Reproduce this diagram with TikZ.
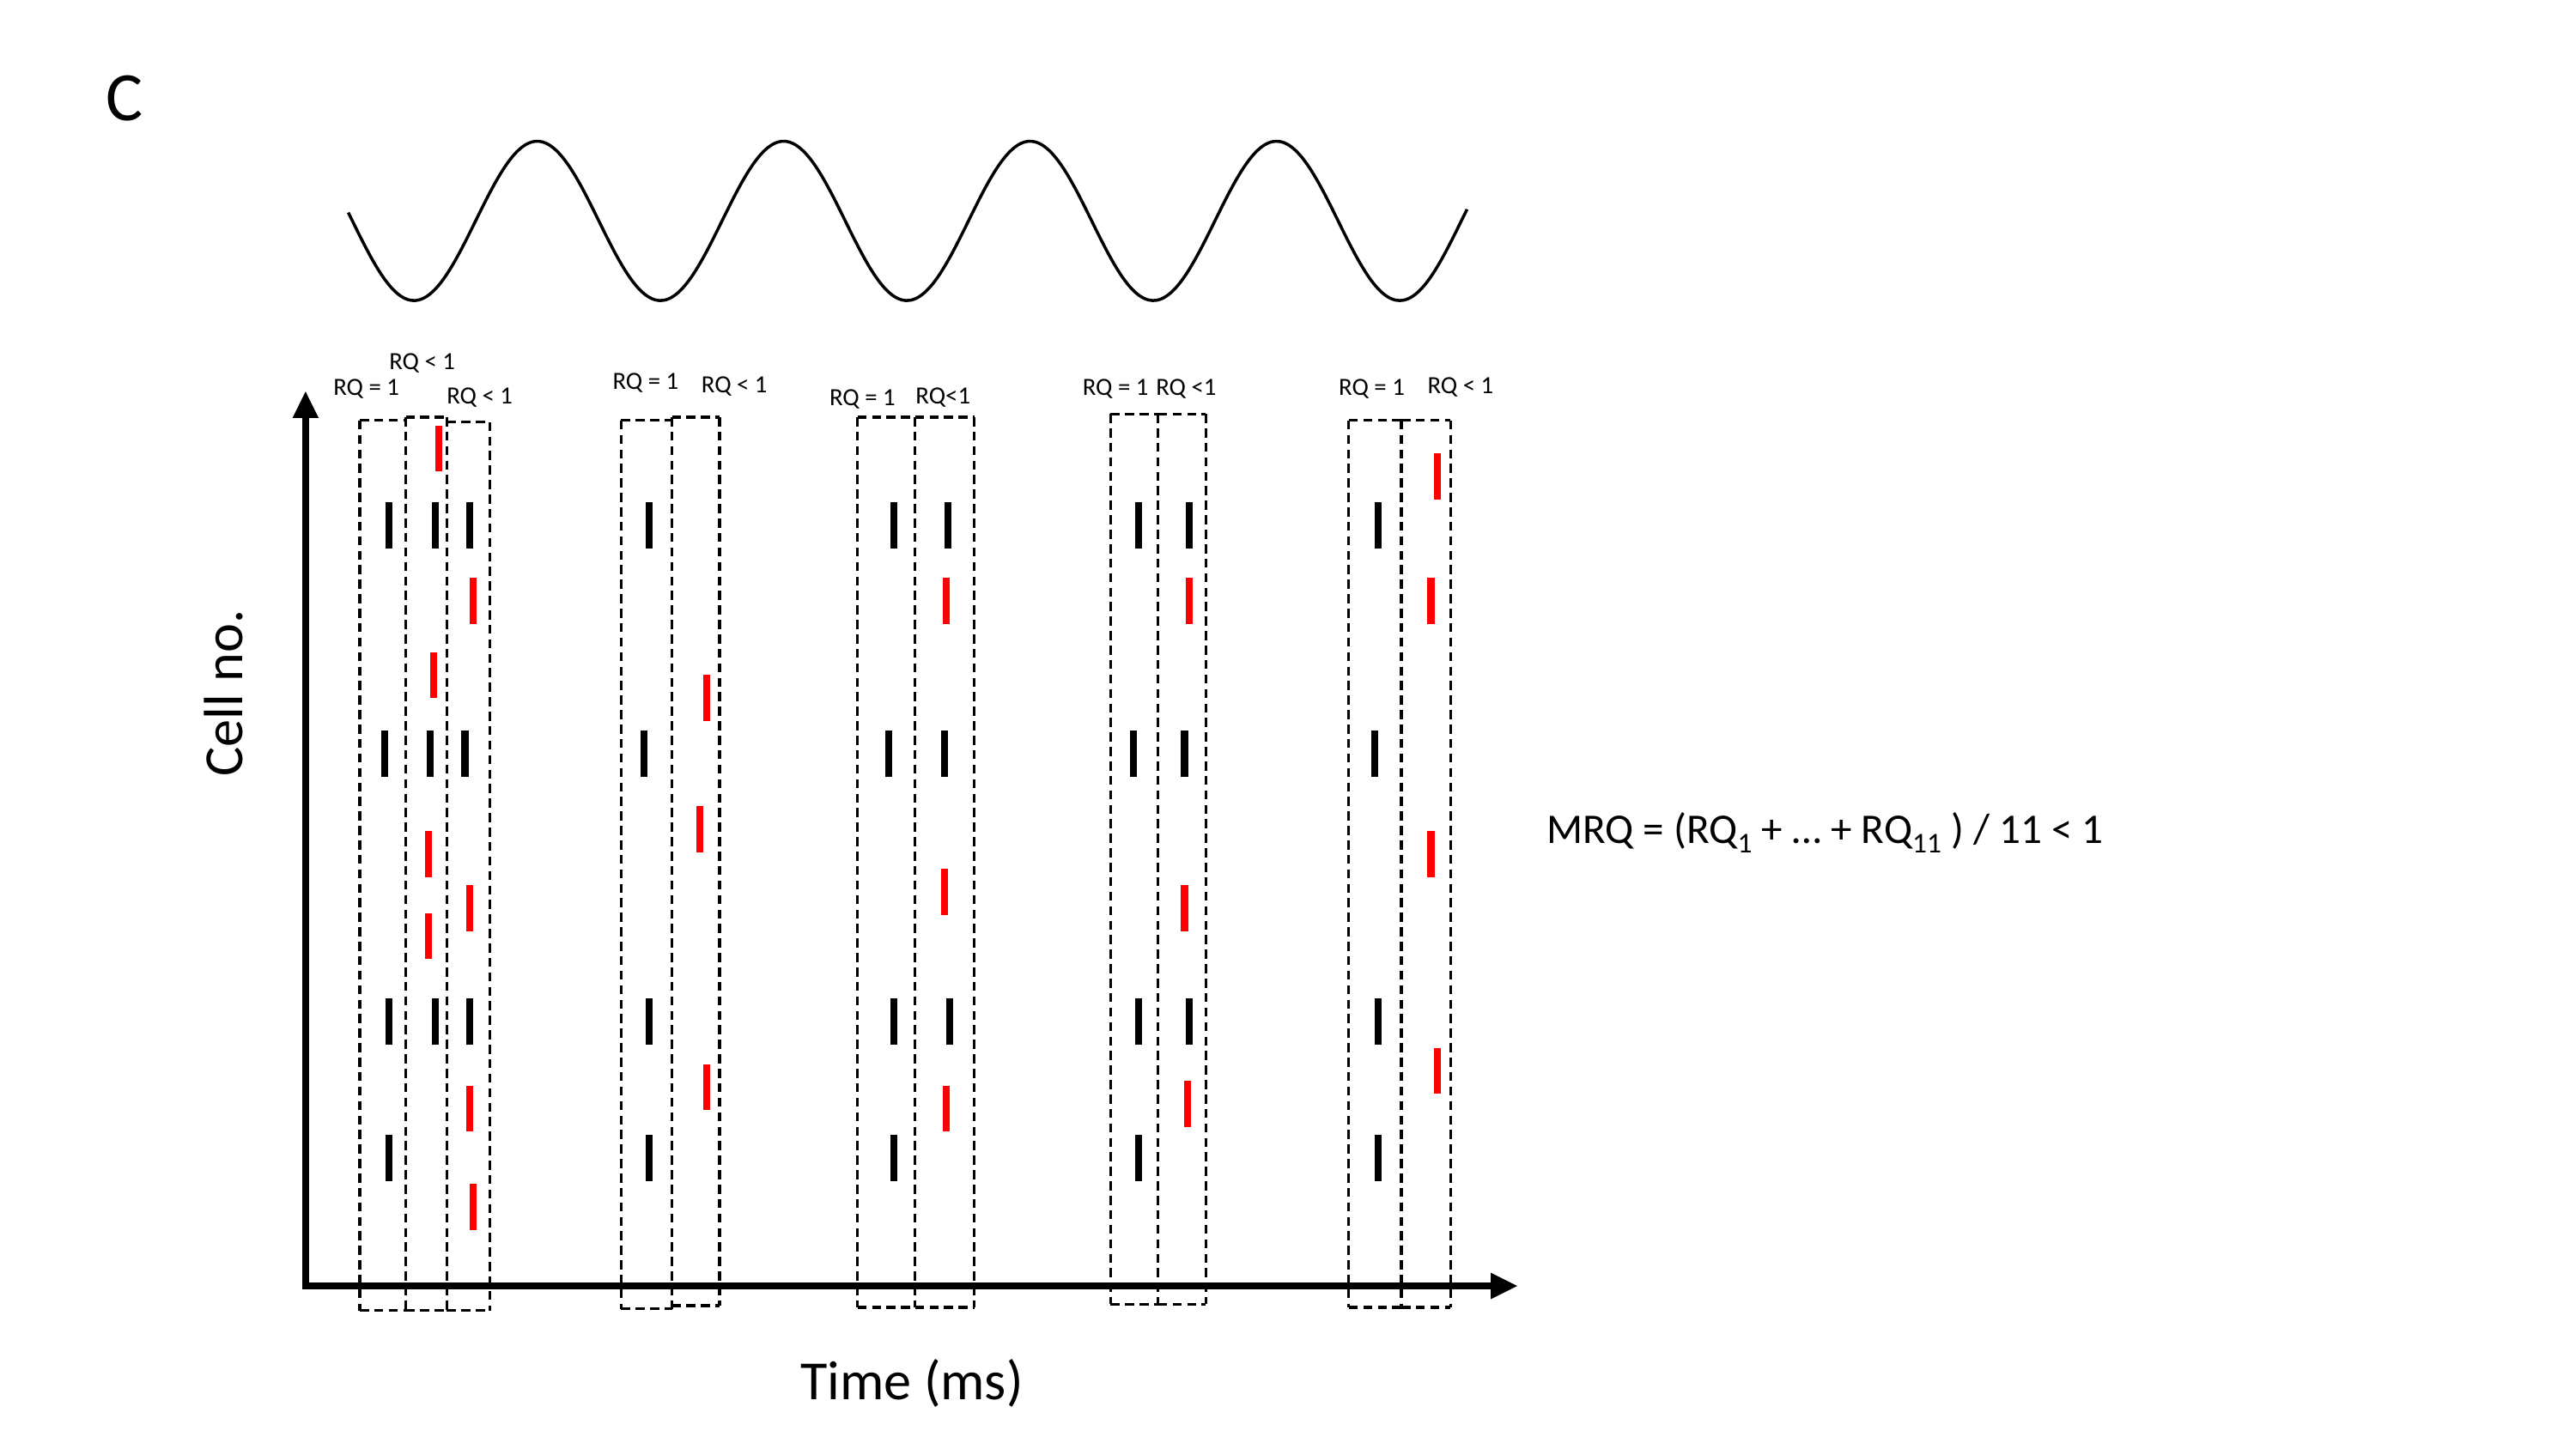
\documentclass[tikz,border=0pt]{standalone}
\usepackage{fontspec}
\setmainfont{Carlito}
\usetikzlibrary{arrows.meta}
\newcommand\sbsc[1]{\raisebox{-0.45ex}{\fontsize{9.5}{10}\selectfont #1}}
\tikzset{
  spkblack/.style={line width=2.3pt, black},
  spkred/.style={line width=2.3pt, red},
  rqbox/.style={draw, dash pattern=on 3pt off 1.8pt, line width=0.9pt},
  rqlab/.style={font=\fontsize{8.2}{9}\selectfont, inner sep=0pt},
  axisline/.style={line width=2.4pt, -{Triangle[length=9pt,width=8pt]}},
}
\begin{document}
\begin{tikzpicture}[x=0.019133cm, y=-0.019133cm]
\useasboundingbox (0,0) rectangle (1568,882);
\node[font=\fontsize{23}{24}\selectfont, inner sep=0pt] (lblC) at (76,60) {C};
% sine
\draw[line width=1pt] plot[domain=212:893, samples=300, smooth] (\x, {134.5+48.5*cos(2.4*(\x-252))});
% axes
\coordinate (orig) at (186,783);
\coordinate (ytop) at (186,238);
\coordinate (xend) at (924,783);
\draw[axisline] (orig) -- (ytop);
\draw[axisline] ([xshift=-1.2pt]orig) -- (xend);
\node[rotate=90, font=\fontsize{18.3}{20}\selectfont, inner sep=0pt] (ylab) at (136,422) {Cell no.};
\node[font=\fontsize{18.3}{20}\selectfont, inner sep=0pt] (xlab) at (555,842) {Time (ms)};
\node[font=\fontsize{14}{16}\selectfont, inner sep=0pt, anchor=west] (mrq) at (941,507) {MRQ = (RQ\sbsc{1} + \dots\ + RQ\sbsc{11} ) / 11 < 1};
% boxes: horizontal edges per box, vertical edges drawn once each
\foreach \xa/\xb/\yt/\yb in {219/247/256/798, 247/272/254/798, 272/298/257/798,
  378/409/256/797, 409/438/254/795,
  522/557/254/796, 557/593/254/796,
  676/705/252/794, 705/734/252/794,
  821/853/256/796, 853/883/256/796}
  \draw[rqbox] (\xa,\yt) -- (\xb,\yt) (\xa,\yb) -- (\xb,\yb);
\foreach \xv/\yt/\yb in {219/256/798, 247/254/798, 272/254/798, 298/257/798,
  378/256/797, 409/254/797, 438/254/795,
  522/254/796, 557/254/796, 593/254/796,
  676/252/794, 705/252/794, 734/252/794,
  821/256/796, 853/256/796, 883/256/796}
  \draw[rqbox] (\xv,\yt) -- (\xv,\yb);
% labels
\node[rqlab] (l1a) at (223,237) {RQ = 1};
\node[rqlab] (l1b) at (257,221) {RQ < 1};
\node[rqlab] (l1c) at (292,242) {RQ < 1};
\node[rqlab] (l2a) at (393,233) {RQ = 1};
\node[rqlab] (l2b) at (447,235) {RQ < 1};
\node[rqlab] (l3a) at (525,243) {RQ = 1};
\node[rqlab] (l3b) at (574,242) {RQ<1};
\node[rqlab] (l4a) at (679,237) {RQ = 1};
\node[rqlab] (l4b) at (722,237) {RQ <1};
\node[rqlab] (l5a) at (835,237) {RQ = 1};
\node[rqlab] (l5b) at (889,236) {RQ < 1};
% spikes
\foreach \px/\py in {237/320,234/459,237/622,237/705,
  265/320,262/459,265/622,
  286/320,283/459,286/622,
  395/320,392/459,395/622,395/705,
  544/320,541/459,544/622,544/705,
  577/320,575/459,578/622,
  693/320,690/459,693/622,693/705,
  724/320,721/459,724/622,
  839/320,837/459,839/622,839/705}
  \draw[spkblack] (\px,\py-14) -- (\px,\py+14);
\foreach \px/\py in {267/273,264/411,261/520,261/570,
  288/366,286/553,286/675,288/735,
  430/425,426/505,430/662,
  576/366,575/543,576/675,
  724/366,721/553,723/672,
  875/290,871/366,871/520,875/652}
  \draw[spkred] (\px,\py-14) -- (\px,\py+14);
\end{tikzpicture}
\end{document}
